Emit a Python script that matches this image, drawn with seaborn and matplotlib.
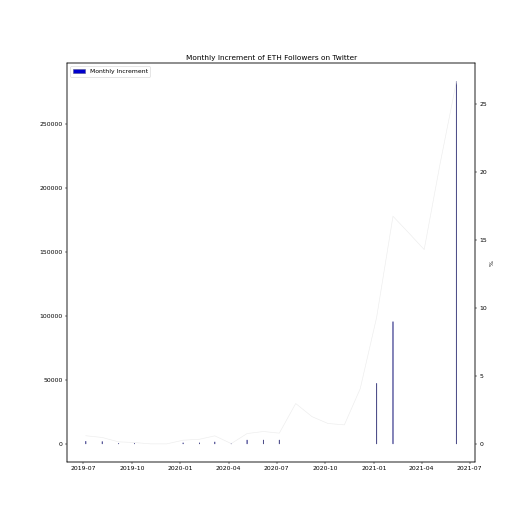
import numpy as np
import pandas as pd
import matplotlib
matplotlib.use('Agg')
import matplotlib.pyplot as plt
import seaborn as sns

# monthly snapshots (early in each month)
months = pd.date_range('2019-07-01', periods=24, freq='MS') + pd.Timedelta(days=5)

# monthly follower increment (only the bars that show up in the chart)
increment = [2000, 1800, 400, 400, np.nan, np.nan,
             800, 800, 1500, 300, 3000, 3000,
             3000, np.nan, np.nan, np.nan, np.nan, np.nan,
             47300, 95600, np.nan, np.nan, np.nan, 283600]

# monthly growth in percent
growth_pct = [0.6, 0.47, 0.15, 0.1, 0.0, 0.0,
              0.27, 0.34, 0.59, 0.02, 0.76, 0.91,
              0.79, 2.97, 2.0, 1.5, 1.4, 4.06,
              9.3, 16.75, 15.6, 14.3, 20.6, 26.67]

df = pd.DataFrame({'month': months, 'increment': increment, 'pct': growth_pct})

fig, ax = plt.subplots(figsize=(12, 12), dpi=44)
fig.subplots_adjust(left=0.127, right=0.9, top=0.88, bottom=0.125)
ax.bar(df['month'], df['increment'], width=0.8, color='mediumblue',
       edgecolor='#50508a', linewidth=0.9, snap=False, label='Monthly Increment')
ax.set_title('Monthly Increment of ETH Followers on Twitter')
ax.legend(loc='upper left')
top = np.nanmax(increment)
ax.set_ylim(-0.05 * top, 1.05 * top)

ax2 = ax.twinx()
sns.lineplot(data=df, x='month', y='pct', ax=ax2, color='#ececec', linewidth=1)
ax2.set_ylabel('%')
ax.set_xlabel('')

fig.savefig('out.png', dpi=44)
